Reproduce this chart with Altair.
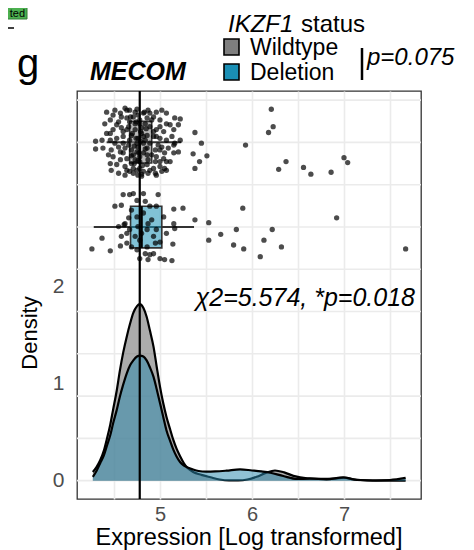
import altair as alt
import pandas as pd

FONT = "Liberation Sans"

# ---------------- data ----------------
groups = ["Wildtype", "Deletion"]
group_colors = ["#7f7f7f", "#1a8fb5"]
density_fill = ["#7f7f7f", "#2a88ad"]

# density curves (x = expression, y = density)
dens_wt_x = [4.27, 4.31, 4.35, 4.39, 4.42, 4.46, 4.49, 4.53, 4.565, 4.60, 4.64, 4.675,
             4.71, 4.75, 4.78, 4.82, 4.855, 4.89, 4.93, 4.965, 5.0, 5.035, 5.07, 5.11,
             5.145, 5.18, 5.22, 5.26, 5.30, 5.36, 5.45, 5.55, 5.65, 5.75, 5.85, 5.95,
             6.05, 6.15, 6.25, 6.35, 6.45, 6.6, 6.75, 6.9, 7.0, 7.1, 7.25, 7.45, 7.67]
dens_wt_y = [0.09, 0.14, 0.21, 0.31, 0.42, 0.58, 0.73, 0.93, 1.14, 1.32, 1.49, 1.62,
             1.73, 1.80, 1.82, 1.78, 1.69, 1.55, 1.38, 1.17, 0.97, 0.80, 0.66, 0.53,
             0.42, 0.33, 0.25, 0.18, 0.13, 0.09, 0.06, 0.035, 0.012, 0.003, 0.003, 0.012,
             0.04, 0.08, 0.105, 0.085, 0.05, 0.025, 0.02, 0.022, 0.03, 0.015, 0.003, 0.0, 0.0]

dens_del_x = [4.27, 4.31, 4.35, 4.39, 4.42, 4.46, 4.49, 4.53, 4.565, 4.60, 4.64, 4.675,
              4.71, 4.75, 4.78, 4.82, 4.855, 4.89, 4.93, 4.965, 5.0, 5.035, 5.07, 5.11,
              5.145, 5.18, 5.22, 5.26, 5.30, 5.36, 5.42, 5.5, 5.6, 5.72, 5.87, 6.0,
              6.1, 6.2, 6.34, 6.49, 6.63, 6.81, 6.99, 7.14, 7.31, 7.5, 7.67]
dens_del_y = [0.04, 0.10, 0.18, 0.26, 0.35, 0.47, 0.59, 0.73, 0.87, 0.99, 1.11, 1.19,
              1.24, 1.28, 1.29, 1.28, 1.24, 1.17, 1.07, 0.94, 0.80, 0.66, 0.52, 0.41,
              0.32, 0.25, 0.19, 0.155, 0.135, 0.115, 0.10, 0.093, 0.095, 0.103, 0.117, 0.105,
              0.095, 0.082, 0.048, 0.018, 0.021, 0.014, 0.035, 0.007, 0.002, 0.007, 0.028]

# jittered samples (x = expression, y = jittered position)
wt_x = [4.42, 4.51, 4.57, 4.62, 4.67, 4.75, 4.82, 4.87, 4.96, 5.02, 5.07, 5.16, 5.22,
        4.46, 4.55, 4.64, 4.71, 4.78, 4.86, 4.93, 5.00, 5.11, 5.20, 5.15, 4.49, 4.58,
        4.66, 4.73, 4.80, 4.89, 4.96, 5.04, 4.30, 4.30, 4.46, 4.53, 4.60, 4.67, 4.76,
        4.84, 4.93, 5.00, 5.07, 5.16, 4.38, 4.47, 4.55, 4.62, 4.69, 4.76, 4.86, 4.95,
        5.02, 5.09, 5.15, 5.20, 4.49, 4.57, 4.64, 4.71, 4.78, 4.87, 4.96, 5.04, 5.11,
        4.46, 4.53, 4.62, 4.69, 4.78, 4.86, 4.93, 5.00, 5.07, 4.55, 4.62, 4.71, 4.80,
        4.87, 4.96, 5.02, 5.05, 4.64, 4.73, 4.82, 4.89, 4.80, 4.73, 4.58, 4.49, 4.40,
        4.42, 4.37, 4.44, 4.66, 4.75, 4.91, 4.98, 5.05, 4.84, 4.93, 4.69, 4.60, 4.51,
        5.07, 5.13, 4.67, 4.82, 4.95, 4.75, 4.60, 4.86, 5.00, 4.46, 4.89, 4.76, 4.91,
        4.64, 5.00, 4.75, 4.86, 4.57, 4.67, 4.82, 4.96, 4.53, 5.07, 4.47, 4.78, 4.64,
        5.15, 5.22, 4.89, 4.76, 4.95, 4.60, 5.00,
        4.72, 4.79, 4.74, 4.81, 4.77, 4.70, 4.83, 4.69, 4.79, 4.73, 4.85, 4.76, 4.71,
        4.84, 4.68, 4.80, 4.74, 4.78, 4.72, 4.82,
        5.38, 5.36, 5.38, 5.45, 5.51, 5.43, 5.93, 6.18, 6.21, 6.23, 6.29, 6.37, 6.56,
        6.64, 6.86, 7.00, 7.04]
wt_y = [3.80, 3.82, 3.79, 3.84, 3.82, 3.83, 3.79, 3.82, 3.80, 3.82, 3.79, 3.74, 3.73,
        3.72, 3.70, 3.74, 3.75, 3.72, 3.74, 3.75, 3.72, 3.67, 3.67, 3.62, 3.62, 3.64,
        3.65, 3.62, 3.64, 3.65, 3.62, 3.60, 3.50, 3.42, 3.51, 3.53, 3.55, 3.51, 3.53,
        3.51, 3.55, 3.53, 3.51, 3.48, 3.43, 3.41, 3.44, 3.43, 3.41, 3.44, 3.43, 3.41,
        3.44, 3.43, 3.38, 3.39, 3.34, 3.31, 3.32, 3.36, 3.34, 3.31, 3.34, 3.32, 3.29,
        3.27, 3.26, 3.24, 3.27, 3.22, 3.26, 3.22, 3.24, 3.20, 3.17, 3.15, 3.17, 3.14,
        3.17, 3.15, 3.19, 3.22, 3.20, 3.31, 3.38, 3.48, 3.58, 3.68, 3.75, 3.77, 3.68,
        3.58, 3.51, 3.36, 3.46, 3.39, 3.36, 3.46, 3.38, 3.68, 3.60, 3.56, 3.38, 3.48,
        3.68, 3.55, 3.19, 3.19, 3.29, 3.20, 3.60, 3.56, 3.65, 3.58, 3.20, 3.77, 3.72,
        3.82, 3.29, 3.48, 3.36, 3.39, 3.70, 3.48, 3.55, 3.67, 3.29, 3.20, 3.29, 3.62,
        3.46, 3.51, 3.79, 3.15, 3.17, 3.48, 3.41,
        3.45, 3.60, 3.70, 3.25, 3.38, 3.58, 3.80, 3.35, 3.50, 3.80, 3.63, 3.30, 3.22,
        3.42, 3.75, 3.16, 3.53, 3.68, 3.27, 3.55,
        3.59, 3.37, 3.22, 3.48, 3.35, 3.29, 3.46, 3.59, 3.83, 3.65, 3.21, 3.29, 3.23,
        3.16, 3.18, 3.33, 3.28]

del_x = [4.60, 4.67, 4.71, 4.82, 4.98, 4.51, 4.58, 4.75, 5.15, 5.25, 4.89, 4.62, 4.61,
         4.67, 5.16, 5.15, 4.37, 4.26, 4.46, 4.57, 4.58, 4.64, 4.78, 4.89, 4.87, 5.00,
         5.05, 5.13, 5.14, 4.93, 4.84, 4.80, 4.86, 4.75, 4.82, 4.73, 4.69, 4.78, 4.91,
         4.96, 4.95, 4.64, 4.55, 4.86, 4.75, 4.87, 4.69, 4.96, 5.04, 4.84, 4.66, 4.76,
         4.93, 5.00, 5.07,
         5.38, 5.53, 5.53, 5.66, 5.83, 5.80, 5.91, 5.90, 6.09, 6.13, 6.22, 6.32, 6.92, 7.67]
del_y = [2.95, 2.95, 2.96, 2.96, 2.95, 2.83, 2.84, 2.89, 2.80, 2.81, 2.83, 2.65, 2.64,
         2.59, 2.60, 2.65, 2.50, 2.39, 2.37, 2.42, 2.52, 2.45, 2.29, 2.33, 2.28, 2.29,
         2.28, 2.27, 2.44, 2.34, 2.34, 2.55, 2.59, 2.72, 2.76, 2.52, 2.41, 2.48, 2.69,
         2.59, 2.45, 2.55, 2.62, 2.41, 2.38, 2.65, 2.79, 2.83, 2.72, 2.88, 2.71, 2.62,
         2.52, 2.46, 2.55,
         2.69, 2.66, 2.48, 2.54, 2.59, 2.43, 2.39, 2.81, 2.31, 2.48, 2.59, 2.41, 2.71, 2.39]

# boxplot statistics
box_level = [3.49, 2.615]
box_q1 = [4.67, 4.68]
box_med = [4.78, 4.80]
box_q3 = [4.91, 5.02]
whisk_lo = [4.42, 4.28]
whisk_hi = [5.23, 5.37]
overall_median = [4.78]

y_labels = [0, 1, 2]
x_grid = [4.5, 5, 5.5, 6, 6.5, 7, 7.5]
y_grid = [0, 0.436, 0.872, 1.308, 1.744, 2.18, 2.616, 3.052, 3.488, 3.924]

# ---------------- tables ----------------
df_wt = pd.DataFrame({"x": dens_wt_x, "d": dens_wt_y})
df_del = pd.DataFrame({"x": dens_del_x, "d": dens_del_y})
df_pts = pd.DataFrame({"x": wt_x + del_x, "y": wt_y + del_y})
df_box = pd.DataFrame({"group": groups, "level": box_level, "q1": box_q1,
                       "med": box_med, "q3": box_q3, "lo": whisk_lo, "hi": whisk_hi})
df_vline = pd.DataFrame({"x": overall_median})
df_grid = pd.DataFrame({"g": y_grid})
one = pd.DataFrame({"k": [0]})

xs = alt.Scale(domain=[4.098, 7.837], nice=False, zero=False)
ys = alt.Scale(domain=[-0.189, 4.018], nice=False, zero=False)

xaxis = alt.Axis(values=x_grid, labelExpr="datum.value % 1 === 0 ? format(datum.value, 'd') : ''",
                 grid=True, gridColor="#ebebeb", gridWidth=1.6, ticks=False, domain=False,
                 labelFontSize=20, labelColor="#4d4d4d", labelFont=FONT, labelPadding=5,
                 labelOverlap=False, title=None)
yaxis = alt.Axis(values=y_labels, format="d", grid=False, ticks=False, domain=False,
                 labelFontSize=21, labelColor="#4d4d4d", labelFont=FONT, labelPadding=13,
                 title=None)


def X(f):
    return alt.X(f, type="quantitative", scale=xs, axis=xaxis)


def Y(f):
    return alt.Y(f, type="quantitative", scale=ys, axis=yaxis)


layers = []

# horizontal grid
layers.append(alt.Chart(df_grid).mark_rule(color="#ebebeb", strokeWidth=1.6).encode(y=Y("g")))

# densities
layers.append(alt.Chart(df_wt).mark_area(color=density_fill[0], opacity=0.65, interpolate="monotone")
              .encode(x=X("x"), y=Y("d"), y2=alt.datum(0)))
layers.append(alt.Chart(df_wt).mark_line(color="black", strokeWidth=2.2, interpolate="monotone")
              .encode(x=X("x"), y=Y("d")))
layers.append(alt.Chart(df_del).mark_area(color=density_fill[1], opacity=0.52, interpolate="monotone")
              .encode(x=X("x"), y=Y("d"), y2=alt.datum(0)))
layers.append(alt.Chart(df_del).mark_line(color="black", strokeWidth=2.2, interpolate="monotone")
              .encode(x=X("x"), y=Y("d")))

# boxplots
box_base = alt.Chart(df_box).transform_calculate(ylo="datum.level - 0.215", yhi="datum.level + 0.215")
layers.append(box_base.mark_rule(color="#333333", strokeWidth=2)
              .encode(x=X("lo"), x2=alt.X2("hi"), y=Y("level")))
layers.append(box_base.mark_rect(stroke="#333333", strokeWidth=1.6, fillOpacity=0.55)
              .encode(x=X("q1"), x2=alt.X2("q3"), y=Y("ylo"), y2=alt.Y2("yhi"),
                      fill=alt.Fill("group:N", scale=alt.Scale(domain=groups, range=group_colors),
                                    legend=None)))
layers.append(box_base.mark_rule(color="black", strokeWidth=2.4)
              .encode(x=X("med"), y=Y("ylo"), y2=alt.Y2("yhi")))

# median line over whole panel
layers.append(alt.Chart(df_vline).mark_rule(color="black", strokeWidth=2.2).encode(x=X("x")))

# points
layers.append(alt.Chart(df_pts).mark_circle(color="black", opacity=0.7, size=28)
              .encode(x=X("x"), y=Y("y")))


# ---------------- text annotations ----------------
def txt(s, x, y, size, align="left", baseline="alphabetic", style="normal", weight="normal",
        angle=0, color="black"):
    return alt.Chart(one).mark_text(fontSize=size, font=FONT, align=align, baseline=baseline,
                                    fontStyle=style, fontWeight=weight, angle=angle, color=color
                                    ).encode(x=alt.value(x), y=alt.value(y), text=alt.value(s))


layers.append(txt("\u03c72=5.574, *p=0.018", 338, 215, 25, align="right", style="italic"))
layers.append(txt("MECOM", 13, -11, 25, style="italic", weight="bold"))
layers.append(txt("g", -49, -14, 40, align="center"))
layers.append(txt("Density", -40, 242, 22, align="center", angle=270))
layers.append(txt("Expression [Log transformed]", 172, 454, 23.5, align="center"))

# legend
layers.append(txt("IKZF1", 151, -59, 24, style="italic"))
layers.append(txt("status", 224, -59, 24))
for i, g in enumerate(groups):
    y0 = -52 + 25 * i
    layers.append(alt.Chart(one).mark_rect(fill=group_colors[i], stroke="black", strokeWidth=1.6)
                  .encode(x=alt.value(147), x2=alt.value(162), y=alt.value(y0), y2=alt.value(y0 + 16)))
    layers.append(txt(g, 173, y0 + 16, 23))

layers.append(alt.Chart(one).mark_rule(color="black", strokeWidth=2.5)
              .encode(x=alt.value(285), y=alt.value(-43), y2=alt.value(-11)))
layers.append(txt("p=0.075", 290, -26, 24, style="italic"))

# clipped remnant of neighbouring panel (top-left)
layers.append(alt.Chart(one).mark_rect(fill="#4cb050", stroke="#2e7d32", strokeWidth=1)
              .encode(x=alt.value(-70), x2=alt.value(-50), y=alt.value(-84), y2=alt.value(-72)))
layers.append(txt("ted", -52, -74, 11, align="right"))
layers.append(alt.Chart(one).mark_rule(color="black", strokeWidth=1.5)
              .encode(x=alt.value(-70), x2=alt.value(-63), y=alt.value(-63)))

chart = alt.layer(*layers).properties(
    width=344, height=408,
    padding={"left": 69, "top": 83, "right": 45, "bottom": 51},
    autosize=alt.AutoSizeParams(type="none"),
).configure_view(stroke="#333333", strokeWidth=1.3)

chart.save("out.html", embed_options={"renderer": "svg", "actions": False})
